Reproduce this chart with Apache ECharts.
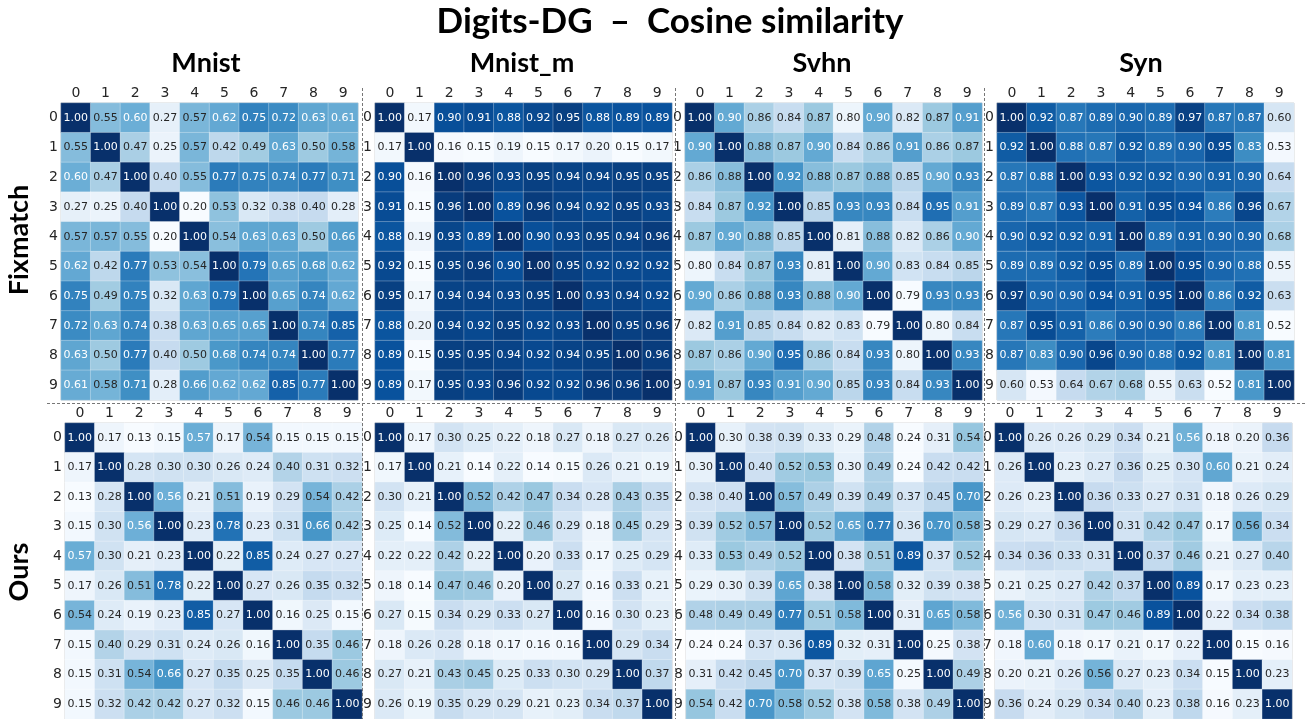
<!DOCTYPE html>
<html>
<head>
<meta charset="utf-8">
<title>Digits-DG – Cosine similarity</title>
<script src="https://cdn.jsdelivr.net/npm/echarts@6/dist/echarts.min.js"></script>
<style>
  html, body { margin: 0; padding: 0; background: #fff; }
  #chart { width: 1309px; height: 719px; }
</style>
</head>
<body>
<div id="chart"></div>
<script>
// class labels and panel names
const DIGITS = ['0', '1', '2', '3', '4', '5', '6', '7', '8', '9'];
const DOMAINS = ['Mnist', 'Mnist_m', 'Svhn', 'Syn'];
const METHODS = ['Fixmatch', 'Ours'];

// Fixmatch similarity matrices
const FIX_MNIST = [
  [1.00, 0.55, 0.60, 0.27, 0.57, 0.62, 0.75, 0.72, 0.63, 0.61],
  [0.55, 1.00, 0.47, 0.25, 0.57, 0.42, 0.49, 0.63, 0.50, 0.58],
  [0.60, 0.47, 1.00, 0.40, 0.55, 0.77, 0.75, 0.74, 0.77, 0.71],
  [0.27, 0.25, 0.40, 1.00, 0.20, 0.53, 0.32, 0.38, 0.40, 0.28],
  [0.57, 0.57, 0.55, 0.20, 1.00, 0.54, 0.63, 0.63, 0.50, 0.66],
  [0.62, 0.42, 0.77, 0.53, 0.54, 1.00, 0.79, 0.65, 0.68, 0.62],
  [0.75, 0.49, 0.75, 0.32, 0.63, 0.79, 1.00, 0.65, 0.74, 0.62],
  [0.72, 0.63, 0.74, 0.38, 0.63, 0.65, 0.65, 1.00, 0.74, 0.85],
  [0.63, 0.50, 0.77, 0.40, 0.50, 0.68, 0.74, 0.74, 1.00, 0.77],
  [0.61, 0.58, 0.71, 0.28, 0.66, 0.62, 0.62, 0.85, 0.77, 1.00]
];
const FIX_MNISTM = [
  [1.00, 0.17, 0.90, 0.91, 0.88, 0.92, 0.95, 0.88, 0.89, 0.89],
  [0.17, 1.00, 0.16, 0.15, 0.19, 0.15, 0.17, 0.20, 0.15, 0.17],
  [0.90, 0.16, 1.00, 0.96, 0.93, 0.95, 0.94, 0.94, 0.95, 0.95],
  [0.91, 0.15, 0.96, 1.00, 0.89, 0.96, 0.94, 0.92, 0.95, 0.93],
  [0.88, 0.19, 0.93, 0.89, 1.00, 0.90, 0.93, 0.95, 0.94, 0.96],
  [0.92, 0.15, 0.95, 0.96, 0.90, 1.00, 0.95, 0.92, 0.92, 0.92],
  [0.95, 0.17, 0.94, 0.94, 0.93, 0.95, 1.00, 0.93, 0.94, 0.92],
  [0.88, 0.20, 0.94, 0.92, 0.95, 0.92, 0.93, 1.00, 0.95, 0.96],
  [0.89, 0.15, 0.95, 0.95, 0.94, 0.92, 0.94, 0.95, 1.00, 0.96],
  [0.89, 0.17, 0.95, 0.93, 0.96, 0.92, 0.92, 0.96, 0.96, 1.00]
];
const FIX_SVHN = [
  [1.00, 0.90, 0.86, 0.84, 0.87, 0.80, 0.90, 0.82, 0.87, 0.91],
  [0.90, 1.00, 0.88, 0.87, 0.90, 0.84, 0.86, 0.91, 0.86, 0.87],
  [0.86, 0.88, 1.00, 0.92, 0.88, 0.87, 0.88, 0.85, 0.90, 0.93],
  [0.84, 0.87, 0.92, 1.00, 0.85, 0.93, 0.93, 0.84, 0.95, 0.91],
  [0.87, 0.90, 0.88, 0.85, 1.00, 0.81, 0.88, 0.82, 0.86, 0.90],
  [0.80, 0.84, 0.87, 0.93, 0.81, 1.00, 0.90, 0.83, 0.84, 0.85],
  [0.90, 0.86, 0.88, 0.93, 0.88, 0.90, 1.00, 0.79, 0.93, 0.93],
  [0.82, 0.91, 0.85, 0.84, 0.82, 0.83, 0.79, 1.00, 0.80, 0.84],
  [0.87, 0.86, 0.90, 0.95, 0.86, 0.84, 0.93, 0.80, 1.00, 0.93],
  [0.91, 0.87, 0.93, 0.91, 0.90, 0.85, 0.93, 0.84, 0.93, 1.00]
];
const FIX_SYN = [
  [1.00, 0.92, 0.87, 0.89, 0.90, 0.89, 0.97, 0.87, 0.87, 0.60],
  [0.92, 1.00, 0.88, 0.87, 0.92, 0.89, 0.90, 0.95, 0.83, 0.53],
  [0.87, 0.88, 1.00, 0.93, 0.92, 0.92, 0.90, 0.91, 0.90, 0.64],
  [0.89, 0.87, 0.93, 1.00, 0.91, 0.95, 0.94, 0.86, 0.96, 0.67],
  [0.90, 0.92, 0.92, 0.91, 1.00, 0.89, 0.91, 0.90, 0.90, 0.68],
  [0.89, 0.89, 0.92, 0.95, 0.89, 1.00, 0.95, 0.90, 0.88, 0.55],
  [0.97, 0.90, 0.90, 0.94, 0.91, 0.95, 1.00, 0.86, 0.92, 0.63],
  [0.87, 0.95, 0.91, 0.86, 0.90, 0.90, 0.86, 1.00, 0.81, 0.52],
  [0.87, 0.83, 0.90, 0.96, 0.90, 0.88, 0.92, 0.81, 1.00, 0.81],
  [0.60, 0.53, 0.64, 0.67, 0.68, 0.55, 0.63, 0.52, 0.81, 1.00]
];

// Ours similarity matrices
const OURS_MNIST = [
  [1.00, 0.17, 0.13, 0.15, 0.57, 0.17, 0.54, 0.15, 0.15, 0.15],
  [0.17, 1.00, 0.28, 0.30, 0.30, 0.26, 0.24, 0.40, 0.31, 0.32],
  [0.13, 0.28, 1.00, 0.56, 0.21, 0.51, 0.19, 0.29, 0.54, 0.42],
  [0.15, 0.30, 0.56, 1.00, 0.23, 0.78, 0.23, 0.31, 0.66, 0.42],
  [0.57, 0.30, 0.21, 0.23, 1.00, 0.22, 0.85, 0.24, 0.27, 0.27],
  [0.17, 0.26, 0.51, 0.78, 0.22, 1.00, 0.27, 0.26, 0.35, 0.32],
  [0.54, 0.24, 0.19, 0.23, 0.85, 0.27, 1.00, 0.16, 0.25, 0.15],
  [0.15, 0.40, 0.29, 0.31, 0.24, 0.26, 0.16, 1.00, 0.35, 0.46],
  [0.15, 0.31, 0.54, 0.66, 0.27, 0.35, 0.25, 0.35, 1.00, 0.46],
  [0.15, 0.32, 0.42, 0.42, 0.27, 0.32, 0.15, 0.46, 0.46, 1.00]
];
const OURS_MNISTM = [
  [1.00, 0.17, 0.30, 0.25, 0.22, 0.18, 0.27, 0.18, 0.27, 0.26],
  [0.17, 1.00, 0.21, 0.14, 0.22, 0.14, 0.15, 0.26, 0.21, 0.19],
  [0.30, 0.21, 1.00, 0.52, 0.42, 0.47, 0.34, 0.28, 0.43, 0.35],
  [0.25, 0.14, 0.52, 1.00, 0.22, 0.46, 0.29, 0.18, 0.45, 0.29],
  [0.22, 0.22, 0.42, 0.22, 1.00, 0.20, 0.33, 0.17, 0.25, 0.29],
  [0.18, 0.14, 0.47, 0.46, 0.20, 1.00, 0.27, 0.16, 0.33, 0.21],
  [0.27, 0.15, 0.34, 0.29, 0.33, 0.27, 1.00, 0.16, 0.30, 0.23],
  [0.18, 0.26, 0.28, 0.18, 0.17, 0.16, 0.16, 1.00, 0.29, 0.34],
  [0.27, 0.21, 0.43, 0.45, 0.25, 0.33, 0.30, 0.29, 1.00, 0.37],
  [0.26, 0.19, 0.35, 0.29, 0.29, 0.21, 0.23, 0.34, 0.37, 1.00]
];
const OURS_SVHN = [
  [1.00, 0.30, 0.38, 0.39, 0.33, 0.29, 0.48, 0.24, 0.31, 0.54],
  [0.30, 1.00, 0.40, 0.52, 0.53, 0.30, 0.49, 0.24, 0.42, 0.42],
  [0.38, 0.40, 1.00, 0.57, 0.49, 0.39, 0.49, 0.37, 0.45, 0.70],
  [0.39, 0.52, 0.57, 1.00, 0.52, 0.65, 0.77, 0.36, 0.70, 0.58],
  [0.33, 0.53, 0.49, 0.52, 1.00, 0.38, 0.51, 0.89, 0.37, 0.52],
  [0.29, 0.30, 0.39, 0.65, 0.38, 1.00, 0.58, 0.32, 0.39, 0.38],
  [0.48, 0.49, 0.49, 0.77, 0.51, 0.58, 1.00, 0.31, 0.65, 0.58],
  [0.24, 0.24, 0.37, 0.36, 0.89, 0.32, 0.31, 1.00, 0.25, 0.38],
  [0.31, 0.42, 0.45, 0.70, 0.37, 0.39, 0.65, 0.25, 1.00, 0.49],
  [0.54, 0.42, 0.70, 0.58, 0.52, 0.38, 0.58, 0.38, 0.49, 1.00]
];
const OURS_SYN = [
  [1.00, 0.26, 0.26, 0.29, 0.34, 0.21, 0.564, 0.18, 0.20, 0.36],
  [0.26, 1.00, 0.23, 0.27, 0.36, 0.25, 0.30, 0.60, 0.21, 0.24],
  [0.26, 0.23, 1.00, 0.36, 0.33, 0.27, 0.31, 0.18, 0.26, 0.29],
  [0.29, 0.27, 0.36, 1.00, 0.31, 0.42, 0.47, 0.17, 0.556, 0.34],
  [0.34, 0.36, 0.33, 0.31, 1.00, 0.37, 0.46, 0.21, 0.27, 0.40],
  [0.21, 0.25, 0.27, 0.42, 0.37, 1.00, 0.89, 0.17, 0.23, 0.23],
  [0.564, 0.30, 0.31, 0.47, 0.46, 0.89, 1.00, 0.22, 0.34, 0.38],
  [0.18, 0.60, 0.18, 0.17, 0.21, 0.17, 0.22, 1.00, 0.15, 0.16],
  [0.20, 0.21, 0.26, 0.556, 0.27, 0.23, 0.34, 0.15, 1.00, 0.23],
  [0.36, 0.24, 0.29, 0.34, 0.40, 0.23, 0.38, 0.16, 0.23, 1.00]
];

const MATRICES = [
  [FIX_MNIST, FIX_MNISTM, FIX_SVHN, FIX_SYN],
  [OURS_MNIST, OURS_MNISTM, OURS_SVHN, OURS_SYN]
];

// matplotlib "Blues"
const BLUES = ['#f7fbff', '#deebf7', '#c6dbef', '#9ecae1', '#6baed6', '#4292c6', '#2171b5', '#08519c', '#08306b'];
const DARK_TXT = '#262626';
const CELL_FONT = 'DejaVu Sans';
const TITLE_FONT = 'Lato';

// panel layout (px)
const ROW_TOP = [103, 423];
const PANEL_SIZE = 297;
const COL_LEFT = [
  [61, 375, 685, 997],
  [65, 375, 686, 995]
];

function labelFor(lo) {
  return function (p) {
    const v = p.value[2];
    const t = (v - lo) / (1 - lo);
    return '{' + (t > 0.482 ? 'w' : 'd') + '|' + v.toFixed(2) + '}';
  };
}

const grid = [], xAxis = [], yAxis = [], series = [], visualMap = [];
MATRICES.forEach(function (row, r) {
  row.forEach(function (m, c) {
    const k = grid.length;
    const data = [];
    let lo = 1;
    m.forEach(function (vals, i) {
      vals.forEach(function (v, j) {
        data.push([j, i, v]);
        if (v < lo) lo = v;
      });
    });
    grid.push({
      left: COL_LEFT[r][c], top: ROW_TOP[r], width: PANEL_SIZE, height: PANEL_SIZE,
      show: true, borderColor: '#c4c4c4', borderWidth: 1, backgroundColor: 'transparent'
    });
    xAxis.push({
      type: 'category', gridIndex: k, data: DIGITS, position: 'top',
      axisLine: { show: false }, axisTick: { show: false }, splitLine: { show: false },
      axisLabel: { color: DARK_TXT, fontSize: 14, fontFamily: CELL_FONT, margin: 3 }
    });
    yAxis.push({
      type: 'category', gridIndex: k, data: DIGITS, inverse: true,
      axisLine: { show: false }, axisTick: { show: false }, splitLine: { show: false },
      axisLabel: { color: DARK_TXT, fontSize: 14, fontFamily: CELL_FONT, margin: 3 }
    });
    visualMap.push({
      type: 'continuous', show: false, seriesIndex: k, dimension: 2,
      min: lo, max: 1, inRange: { color: BLUES }
    });
    series.push({
      type: 'heatmap', xAxisIndex: k, yAxisIndex: k, data: data,
      itemStyle: { borderColor: 'rgba(255,255,255,0.28)', borderWidth: 1 },
      emphasis: { disabled: true },
      label: {
        show: true,
        fontSize: 11,
        fontFamily: CELL_FONT,
        formatter: labelFor(lo),
        rich: {
          w: { color: '#ffffff', fontSize: 11, fontFamily: CELL_FONT },
          d: { color: DARK_TXT, fontSize: 11, fontFamily: CELL_FONT }
        }
      }
    });
  });
});

const TITLE_X = [206, 522, 822, 1141];
const ROW_LABEL_Y = [240, 572];
const graphic = [
  {
    type: 'text', x: 670, y: 22, z: 100,
    style: { text: 'Digits-DG  \u2013  Cosine similarity', font: 'bold 35px ' + TITLE_FONT, fill: '#000', align: 'center', verticalAlign: 'middle' }
  }
];
DOMAINS.forEach(function (d, i) {
  graphic.push({
    type: 'text', x: TITLE_X[i], y: 63, z: 100,
    style: { text: d, font: 'bold 27px ' + TITLE_FONT, fill: '#000', align: 'center', verticalAlign: 'middle' }
  });
});
METHODS.forEach(function (name, i) {
  graphic.push({
    type: 'text', x: 19, y: ROW_LABEL_Y[i], rotation: Math.PI / 2, z: 100,
    style: { text: name, font: 'bold 27px ' + TITLE_FONT, fill: '#000', align: 'center', verticalAlign: 'middle' }
  });
});
// dashed separators between panels
const DASH = { stroke: '#777', lineWidth: 1, lineDash: [3, 2] };
graphic.push({ type: 'line', z: 100, shape: { x1: 47, y1: 403.5, x2: 1305, y2: 403.5 }, style: DASH });
[362.5, 675.5, 984.5].forEach(function (x) {
  graphic.push({ type: 'line', z: 100, shape: { x1: x, y1: 88, x2: x, y2: 719 }, style: DASH });
});

const chart = echarts.init(document.getElementById('chart'));
chart.setOption({
  animation: false,
  backgroundColor: '#ffffff',
  grid: grid,
  xAxis: xAxis,
  yAxis: yAxis,
  visualMap: visualMap,
  series: series,
  graphic: graphic
});
window.addEventListener('resize', function () { chart.resize(); });
</script>
</body>
</html>
